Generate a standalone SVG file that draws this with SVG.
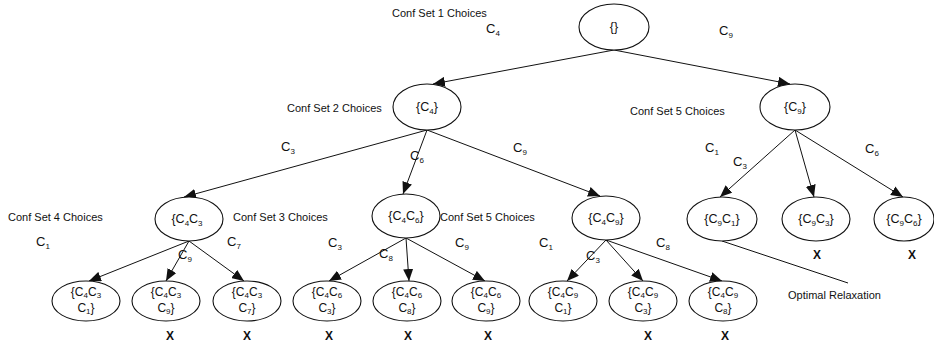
<svg xmlns="http://www.w3.org/2000/svg" width="934" height="344" viewBox="0 0 934 344">
  <style>
    text { font-family: "Liberation Sans", Arial, sans-serif; font-size: 11px; fill: #111; }
    .n text { text-anchor: middle; font-size: 12.5px; }
    .n text.t2 { font-size: 12px; }
    text.c { font-size: 13px; }
    .s { font-size: 8px; }
    .x { font-weight: bold; font-size: 12px; text-anchor: middle; }
    ellipse { fill: #fff; stroke: #111; stroke-width: 1.1; }
    .e line { stroke: #111; stroke-width: 1; marker-end: url(#ah); }
    .e line.plain { marker-end: none; }
  </style>
  <defs>
    <marker id="ah" viewBox="0 0 12 10" refX="12" refY="5" markerWidth="12" markerHeight="10" markerUnits="userSpaceOnUse" orient="auto">
      <path d="M0,0 L12,5 L0,10 Z" fill="#111"/>
    </marker>
  </defs>
  <rect width="934" height="344" fill="#fff"/>

  <!-- connectors -->
  <g class="e" id="edges">
    <line x1="614" y1="50" x2="433" y2="84"/>
    <line x1="614" y1="50" x2="790" y2="84"/>
    <line x1="427" y1="130" x2="184" y2="197"/>
    <line x1="427" y1="130" x2="403" y2="194"/>
    <line x1="427" y1="130" x2="600" y2="196"/>
    <line x1="795" y1="130" x2="720" y2="197"/>
    <line x1="795" y1="130" x2="814" y2="197"/>
    <line x1="795" y1="130" x2="903" y2="197"/>
    <line x1="189" y1="241" x2="89" y2="281"/>
    <line x1="189" y1="241" x2="166" y2="281"/>
    <line x1="189" y1="241" x2="244" y2="281"/>
    <line x1="406" y1="238" x2="329" y2="281"/>
    <line x1="406" y1="238" x2="409" y2="281"/>
    <line x1="406" y1="238" x2="485" y2="281"/>
    <line x1="606" y1="240" x2="567" y2="281"/>
    <line x1="606" y1="240" x2="643" y2="281"/>
    <line x1="606" y1="240" x2="722" y2="281"/>
    <line class="plain" x1="722" y1="241" x2="848" y2="283"/>
  </g>

  <!-- set headings and edge labels -->
  <g id="labels">
    <text x="392" y="17">Conf Set 1 Choices</text>
    <text class="c" x="486" y="33">C<tspan class="s" dy="3">4</tspan></text>
    <text class="c" x="719" y="35">C<tspan class="s" dy="3">9</tspan></text>
    <text x="287" y="112">Conf Set 2 Choices</text>
    <text x="630" y="115">Conf Set 5 Choices</text>
    <text class="c" x="281" y="151">C<tspan class="s" dy="3">3</tspan></text>
    <text class="c" x="410" y="160">C<tspan class="s" dy="3">6</tspan></text>
    <text class="c" x="513" y="152">C<tspan class="s" dy="3">9</tspan></text>
    <text class="c" x="705" y="152">C<tspan class="s" dy="3">1</tspan></text>
    <text class="c" x="733" y="166">C<tspan class="s" dy="3">3</tspan></text>
    <text class="c" x="865" y="153">C<tspan class="s" dy="3">6</tspan></text>
    <text x="8" y="221">Conf Set 4 Choices</text>
    <text x="233" y="221">Conf Set 3 Choices</text>
    <text x="440" y="221">Conf Set 5 Choices</text>
    <text class="c" x="36" y="246">C<tspan class="s" dy="3">1</tspan></text>
    <text class="c" x="178" y="259">C<tspan class="s" dy="3">9</tspan></text>
    <text class="c" x="227" y="246">C<tspan class="s" dy="3">7</tspan></text>
    <text class="c" x="328" y="247">C<tspan class="s" dy="3">3</tspan></text>
    <text class="c" x="379" y="258">C<tspan class="s" dy="3">8</tspan></text>
    <text class="c" x="455" y="247">C<tspan class="s" dy="3">9</tspan></text>
    <text class="c" x="539" y="247">C<tspan class="s" dy="3">1</tspan></text>
    <text class="c" x="586" y="260">C<tspan class="s" dy="3">3</tspan></text>
    <text class="c" x="656" y="247">C<tspan class="s" dy="3">8</tspan></text>
    <text x="788" y="299">Optimal Relaxation</text>
  </g>

  <!-- nodes -->
  <g class="n" id="n-root"><ellipse cx="614" cy="27" rx="35" ry="23"/><text x="614" y="31">{}</text></g>
  <g class="n" id="n-c4"><ellipse cx="427" cy="107" rx="34" ry="23"/><text x="427" y="111">{C<tspan class="s" dy="3">4</tspan><tspan dy="-3">}</tspan></text></g>
  <g class="n" id="n-c9"><ellipse cx="795" cy="107" rx="35" ry="23"/><text x="795" y="111">{C<tspan class="s" dy="3">9</tspan><tspan dy="-3">}</tspan></text></g>

  <g class="n" id="n-c4c3"><ellipse cx="189" cy="219" rx="34" ry="22"/><text x="187" y="223">{C<tspan class="s" dy="3">4</tspan><tspan dy="-3">C</tspan><tspan class="s" dy="3">3</tspan></text></g>
  <g class="n" id="n-c4c6"><ellipse cx="406" cy="216" rx="34" ry="22"/><text x="406" y="220">{C<tspan class="s" dy="3">4</tspan><tspan dy="-3">C</tspan><tspan class="s" dy="3">6</tspan><tspan dy="-3">}</tspan></text></g>
  <g class="n" id="n-c4c9"><ellipse cx="606" cy="218" rx="34" ry="22"/><text x="606" y="222">{C<tspan class="s" dy="3">4</tspan><tspan dy="-3">C</tspan><tspan class="s" dy="3">9</tspan><tspan dy="-3">}</tspan></text></g>
  <g class="n" id="n-c9c1"><ellipse cx="722" cy="219" rx="35" ry="22"/><text x="722" y="223">{C<tspan class="s" dy="3">9</tspan><tspan dy="-3">C</tspan><tspan class="s" dy="3">1</tspan><tspan dy="-3">}</tspan></text></g>
  <g class="n" id="n-c9c3"><ellipse cx="816" cy="219" rx="34" ry="22"/><text x="816" y="223">{C<tspan class="s" dy="3">9</tspan><tspan dy="-3">C</tspan><tspan class="s" dy="3">3</tspan><tspan dy="-3">}</tspan></text></g>
  <g class="n" id="n-c9c6"><ellipse cx="904" cy="219" rx="30" ry="22"/><text x="904" y="223">{C<tspan class="s" dy="3">9</tspan><tspan dy="-3">C</tspan><tspan class="s" dy="3">6</tspan><tspan dy="-3">}</tspan></text></g>

  <g class="n" id="n-c4c3c1"><ellipse cx="86" cy="301" rx="34" ry="20"/><text class="t2" x="86" y="296">{C<tspan class="s" dy="2">4</tspan><tspan dy="-2">C</tspan><tspan class="s" dy="2">3</tspan></text><text class="t2" x="86" y="312">C<tspan class="s" dy="2">1</tspan><tspan dy="-2">}</tspan></text></g>
  <g class="n" id="n-c4c3c9"><ellipse cx="166" cy="301" rx="34" ry="20"/><text class="t2" x="166" y="296">{C<tspan class="s" dy="2">4</tspan><tspan dy="-2">C</tspan><tspan class="s" dy="2">3</tspan></text><text class="t2" x="166" y="312">C<tspan class="s" dy="2">9</tspan><tspan dy="-2">}</tspan></text></g>
  <g class="n" id="n-c4c3c7"><ellipse cx="247" cy="301" rx="34" ry="20"/><text class="t2" x="247" y="296">{C<tspan class="s" dy="2">4</tspan><tspan dy="-2">C</tspan><tspan class="s" dy="2">3</tspan></text><text class="t2" x="247" y="312">C<tspan class="s" dy="2">7</tspan><tspan dy="-2">}</tspan></text></g>
  <g class="n" id="n-c4c6c3"><ellipse cx="327" cy="301" rx="34" ry="20"/><text class="t2" x="327" y="296">{C<tspan class="s" dy="2">4</tspan><tspan dy="-2">C</tspan><tspan class="s" dy="2">6</tspan></text><text class="t2" x="327" y="312">C<tspan class="s" dy="2">3</tspan><tspan dy="-2">}</tspan></text></g>
  <g class="n" id="n-c4c6c8"><ellipse cx="407" cy="301" rx="34" ry="20"/><text class="t2" x="407" y="296">{C<tspan class="s" dy="2">4</tspan><tspan dy="-2">C</tspan><tspan class="s" dy="2">6</tspan></text><text class="t2" x="407" y="312">C<tspan class="s" dy="2">8</tspan><tspan dy="-2">}</tspan></text></g>
  <g class="n" id="n-c4c6c9"><ellipse cx="486" cy="301" rx="34" ry="20"/><text class="t2" x="486" y="296">{C<tspan class="s" dy="2">4</tspan><tspan dy="-2">C</tspan><tspan class="s" dy="2">6</tspan></text><text class="t2" x="486" y="312">C<tspan class="s" dy="2">9</tspan><tspan dy="-2">}</tspan></text></g>
  <g class="n" id="n-c4c9c1"><ellipse cx="563" cy="301" rx="34" ry="20"/><text class="t2" x="563" y="296">{C<tspan class="s" dy="2">4</tspan><tspan dy="-2">C</tspan><tspan class="s" dy="2">9</tspan></text><text class="t2" x="563" y="312">C<tspan class="s" dy="2">1</tspan><tspan dy="-2">}</tspan></text></g>
  <g class="n" id="n-c4c9c3"><ellipse cx="643" cy="301" rx="34" ry="20"/><text class="t2" x="643" y="296">{C<tspan class="s" dy="2">4</tspan><tspan dy="-2">C</tspan><tspan class="s" dy="2">9</tspan></text><text class="t2" x="643" y="312">C<tspan class="s" dy="2">3</tspan><tspan dy="-2">}</tspan></text></g>
  <g class="n" id="n-c4c9c8"><ellipse cx="723" cy="301" rx="34" ry="20"/><text class="t2" x="723" y="296">{C<tspan class="s" dy="2">4</tspan><tspan dy="-2">C</tspan><tspan class="s" dy="2">9</tspan></text><text class="t2" x="723" y="312">C<tspan class="s" dy="2">8</tspan><tspan dy="-2">}</tspan></text></g>

  <!-- pruned marks -->
  <g id="marks">
    <text class="x" x="170" y="340">X</text>
    <text class="x" x="247" y="340">X</text>
    <text class="x" x="329" y="340">X</text>
    <text class="x" x="408" y="340">X</text>
    <text class="x" x="488" y="340">X</text>
    <text class="x" x="648" y="340">X</text>
    <text class="x" x="725" y="340">X</text>
    <text class="x" x="817" y="259">X</text>
    <text class="x" x="912" y="259">X</text>
  </g>
</svg>
